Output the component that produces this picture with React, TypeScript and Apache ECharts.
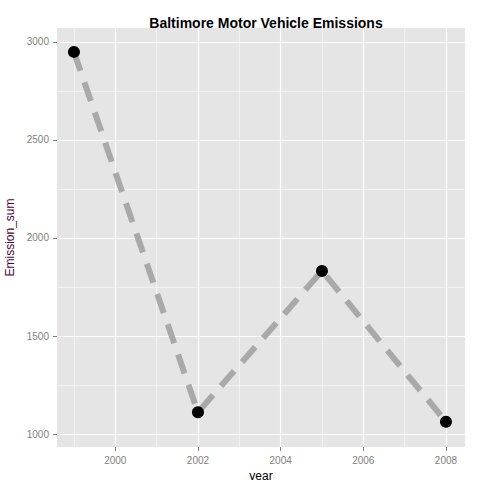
import { useEffect, useRef } from 'react';
import * as echarts from 'echarts';

const years = [1999, 2002, 2005, 2008];
const emissions = [2949, 1111, 1832, 1063];
const xMajor = [2000, 2002, 2004, 2006, 2008];
const xMinor = [1999, 2001, 2003, 2005, 2007];
const yMajor = [1000, 1500, 2000, 2500, 3000];
const yMinor = [1250, 1750, 2250, 2750];

export default function App() {
    const ref = useRef<HTMLDivElement>(null);

    useEffect(() => {
        if (!ref.current) return;
        const chart = echarts.init(ref.current, undefined, { renderer: 'svg' });
        const grid = (axis: 'xAxis' | 'yAxis', vals: number[], w: number) =>
            vals.map((v) => ({ [axis]: v, lineStyle: { color: '#ffffff', width: w, type: 'solid' } }));
        chart.setOption({
            animation: false,
            backgroundColor: '#ffffff',
            title: {
                text: 'Baltimore Motor Vehicle Emissions',
                left: 261, top: 11, textAlign: 'center',
                textStyle: { fontSize: 14, fontWeight: 'bold', color: '#000', fontFamily: 'Arial' },
            },
            grid: {
                left: 57, right: 15, top: 28, bottom: 33, show: true,
                backgroundColor: '#E5E5E5', borderWidth: 0,
                containLabel: false, outerBoundsMode: 'none',
            },
            xAxis: {
                type: 'value', min: 1998.59, max: 2008.46,
                name: 'year', nameLocation: 'middle', nameGap: 22,
                nameTextStyle: { fontSize: 12, color: '#000', fontFamily: 'Arial' },
                axisLine: { show: false },
                splitLine: { show: false },
                axisTick: { customValues: xMajor, length: 4, lineStyle: { color: '#7F7F7F' } },
                axisLabel: {
                    customValues: xMajor, fontSize: 10, color: '#7F7F7F', fontFamily: 'Arial', margin: 8,
                    formatter: (v: number) => String(v),
                },
            },
            yAxis: {
                type: 'value', min: 934, max: 3071,
                name: 'Emission_sum', nameLocation: 'middle', nameGap: 37,
                nameTextStyle: { fontSize: 12, color: '#4B0032', fontFamily: 'Arial' },
                axisLine: { show: false },
                splitLine: { show: false },
                axisTick: { customValues: yMajor, length: 4, lineStyle: { color: '#7F7F7F' } },
                axisLabel: {
                    customValues: yMajor, fontSize: 10, color: '#7F7F7F', fontFamily: 'Arial', margin: 8,
                    formatter: (v: number) => String(v),
                },
            },
            series: [
                {
                    type: 'line',
                    data: years.map((y, i) => [y, emissions[i]]),
                    z: 3,
                    lineStyle: { color: '#A9A9A9', width: 6, type: [20, 12] },
                    symbol: 'circle', symbolSize: 12,
                    itemStyle: { color: '#000' },
                    markLine: {
                        silent: true, symbol: 'none', z: 1,
                        label: { show: false },
                        data: [
                            ...grid('xAxis', xMinor, 0.5),
                            ...grid('yAxis', yMinor, 0.5),
                            ...grid('xAxis', xMajor, 1.2),
                            ...grid('yAxis', yMajor, 1.2),
                        ],
                    },
                },
            ],
        });
        return () => chart.dispose();
    }, []);

    return <div ref={ref} style={{ width: 480, height: 480, position: 'fixed', left: 0, top: 0 }} />;
}
